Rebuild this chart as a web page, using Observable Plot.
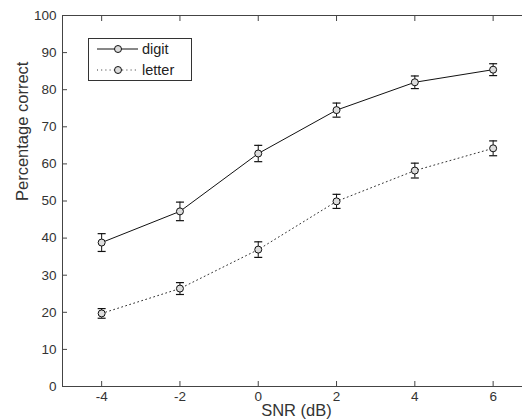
<!DOCTYPE html>
<html>
<head>
<meta charset="utf-8">
<script src="https://cdn.jsdelivr.net/npm/d3@7"></script>
<script src="https://cdn.jsdelivr.net/npm/@observablehq/plot@0.6"></script>
<style>
  html, body { margin: 0; padding: 0; background: #fff; }
  #wrap { position: relative; width: 522px; height: 420px; overflow: hidden; }
  #legend { position: absolute; left: 0; top: 0; }
</style>
</head>
<body>
<div id="wrap"></div>
<script>
// ---- data ----
const snr = [-4, -2, 0, 2, 4, 6];
const digit = [38.8, 47.2, 62.8, 74.5, 82.0, 85.4];
const digitErr = [2.4, 2.5, 2.2, 1.9, 1.7, 1.6];
const letter = [19.7, 26.4, 36.9, 49.9, 58.2, 64.2];
const letterErr = [1.3, 1.6, 2.1, 1.9, 2.0, 2.0];
const seriesNames = ["digit", "letter"];
const xTicks = [-4, -2, 0, 2, 4, 6];
const yTicks = [0, 10, 20, 30, 40, 50, 60, 70, 80, 90, 100];
const xLabel = "SNR (dB)";
const yLabel = "Percentage correct";

const rows = [];
snr.forEach((s, i) => {
  rows.push({series: "digit", snr: s, v: digit[i], lo: digit[i] - digitErr[i], hi: digit[i] + digitErr[i]});
});
snr.forEach((s, i) => {
  rows.push({series: "letter", snr: s, v: letter[i], lo: letter[i] - letterErr[i], hi: letter[i] + letterErr[i]});
});
const dRows = rows.filter(d => d.series === "digit");
const lRows = rows.filter(d => d.series === "letter");

// horizontal cap symbol
const capSymbol = {
  draw(context, size) {
    const w = Math.sqrt(size / Math.PI);
    context.moveTo(-w, 0);
    context.lineTo(w, 0);
  }
};

const axisColor = "#444";
const font = "'Liberation Sans', Arial, Helvetica, sans-serif";
const fmt = d => String(d);

const chart = Plot.plot({
  width: 522,
  height: 420,
  marginLeft: 62,
  marginRight: 0,
  marginTop: 15,
  marginBottom: 34,
  style: {fontFamily: font, fontSize: "13px", color: "#333", background: "#fff"},
  x: {domain: [-5, 6.75]},
  y: {domain: [0, 100]},
  marks: [
    Plot.ruleX([-5], {stroke: axisColor}),
    Plot.ruleY([0, 100], {stroke: axisColor}),
    Plot.axisY({ticks: yTicks, tickSize: -5, tickPadding: 11, tickFormat: fmt, label: null, stroke: axisColor, fontSize: 13.5}),
    Plot.axisX({ticks: xTicks, tickSize: -5, tickPadding: 10, tickFormat: fmt, label: null, stroke: axisColor, fontSize: 13.5}),
    Plot.axisX({anchor: "top", ticks: xTicks, tickSize: -5, tickFormat: () => "", label: null, stroke: axisColor}),
    Plot.text([yLabel], {frameAnchor: "left", rotate: -90, dx: -40, fontSize: 16.5, fill: "#333"}),
    Plot.text([xLabel], {frameAnchor: "bottom", dx: 4, dy: 29.5, fontSize: 16.5, fill: "#333"}),
    Plot.line(dRows, {x: "snr", y: "v", stroke: "#111", strokeWidth: 1}),
    Plot.line(lRows, {x: "snr", y: "v", stroke: "#333", strokeWidth: 1, strokeDasharray: "1,3.2"}),
    Plot.ruleX(rows, {x: "snr", y1: "lo", y2: "hi", stroke: "#111", strokeWidth: 1}),
    Plot.dot(rows, {x: "snr", y: "lo", symbol: capSymbol, r: 4, stroke: "#111", strokeWidth: 1.2}),
    Plot.dot(rows, {x: "snr", y: "hi", symbol: capSymbol, r: 4, stroke: "#111", strokeWidth: 1.2}),
    Plot.dot(rows, {x: "snr", y: "v", r: 3.5, fill: "#ddd", stroke: "#111", strokeWidth: 1})
  ]
});

const wrap = document.getElementById("wrap");
wrap.appendChild(chart);

// legend overlay
const lg = d3.select(wrap).append("svg")
  .attr("id", "legend")
  .attr("width", 522).attr("height", 420)
  .style("font-family", font);
lg.append("rect")
  .attr("x", 88.5).attr("y", 38.5).attr("width", 103).attr("height", 42)
  .attr("fill", "#fff").attr("stroke", "#333").attr("stroke-width", 1);
seriesNames.forEach((name, i) => {
  const yy = 49 + i * 21;
  lg.append("line")
    .attr("x1", 97).attr("x2", 138).attr("y1", yy).attr("y2", yy)
    .attr("stroke", i === 0 ? "#111" : "#333").attr("stroke-width", 1)
    .attr("stroke-dasharray", i === 0 ? null : "1,3.2");
  lg.append("circle")
    .attr("cx", 118).attr("cy", yy).attr("r", 3.5)
    .attr("fill", "#ddd").attr("stroke", "#111");
  lg.append("text")
    .attr("x", 142).attr("y", yy).attr("dy", "0.35em")
    .attr("font-size", 14.5).attr("fill", "#222")
    .text(name);
});
</script>
</body>
</html>
